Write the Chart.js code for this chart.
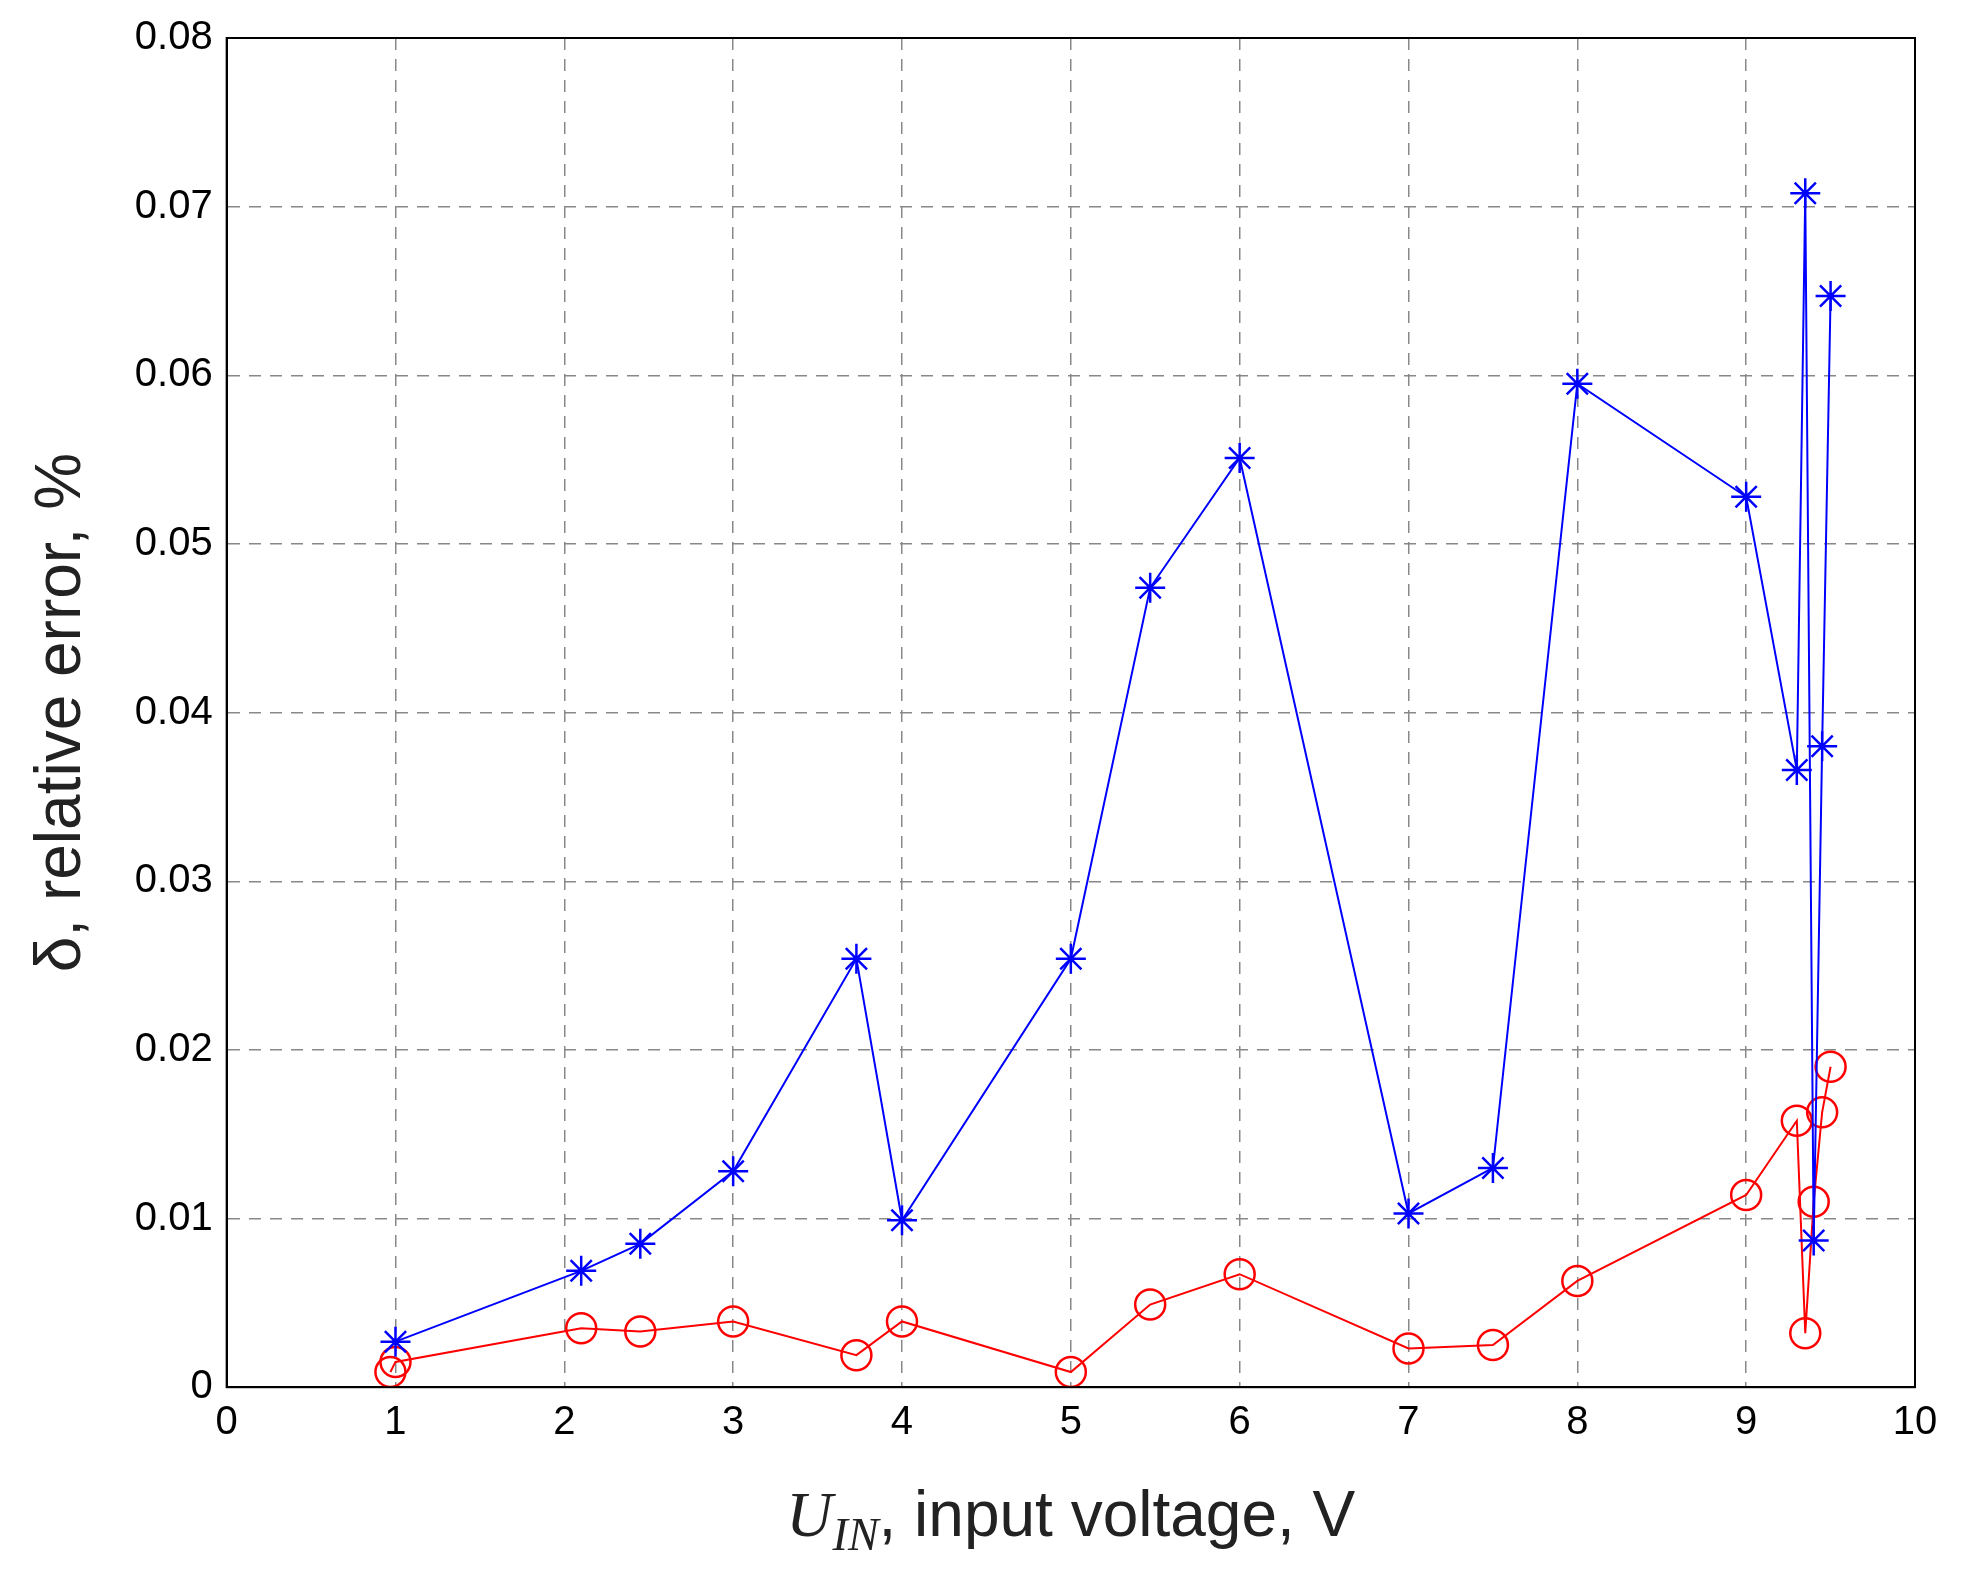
<!DOCTYPE html><html><head><script src="https://cdn.jsdelivr.net/npm/chart.js@4"></script>
<style>body{margin:0;background:#fff}#w{width:1961px;height:1584px}</style></head><body><div id="w"><canvas id="c"></canvas></div>
<script>
const blueX=[1,2.1,2.45,3,3.73,4,5,5.47,6,7,7.5,8,9,9.3,9.35,9.4,9.45,9.5];
const blueY=[0.0027,0.0069,0.0085,0.0128,0.0254,0.0099,0.0254,0.0474,0.0551,0.0103,0.013,0.0595,0.0528,0.0366,0.0708,0.0087,0.038,0.0647];
const redX=[0.97,1,2.1,2.45,3,3.73,4,5,5.47,6,7,7.5,8,9,9.3,9.35,9.4,9.45,9.5];
const redY=[0.0009,0.0015,0.0035,0.0033,0.0039,0.0019,0.0039,0.0009,0.0049,0.0067,0.0023,0.0025,0.0063,0.0114,0.0158,0.0032,0.011,0.0163,0.019];
const xTicks=[0,1,2,3,4,5,6,7,8,9,10];
const yTicks=[0,0.01,0.02,0.03,0.04,0.05,0.06,0.07,0.08];
const pts=(xs,ys)=>xs.map((x,i)=>({x,y:ys[i]}));
const grid={color:'#888',lineWidth:1.5,drawTicks:false};
const bord={color:'#000',width:2,dash:[12,9]};
new Chart(document.getElementById('c'),{type:'scatter',data:{datasets:[
{data:pts(blueX,blueY),showLine:true,borderColor:'#0000ff',backgroundColor:'#0000ff',borderWidth:2,pointStyle:'star',pointRadius:15,pointBorderWidth:2.5},
{data:pts(redX,redY),showLine:true,borderColor:'#ff0000',backgroundColor:'rgba(0,0,0,0)',borderWidth:2,pointStyle:'circle',pointRadius:15,pointBorderWidth:2.5}]},
options:{responsive:true,maintainAspectRatio:false,animation:false,layout:{padding:{top:38,right:46,left:20,bottom:30}},
plugins:{legend:{display:false},tooltip:{enabled:false}},
scales:{x:{type:'linear',min:0,max:10,afterBuildTicks:a=>{a.ticks=xTicks.map(v=>({value:v}))},grid:grid,border:bord,
ticks:{font:{size:40,family:'Liberation Sans'},color:'#000',padding:12},
title:{display:true,text:' ',font:{size:64,family:'Liberation Sans'},padding:{top:14}}},
y:{min:0,max:0.08,afterBuildTicks:a=>{a.ticks=yTicks.map(v=>({value:v}))},grid:grid,border:bord,
ticks:{font:{size:40,family:'Liberation Sans'},color:'#000',padding:14,callback:v=>v===0?'0':v.toFixed(2)},
title:{display:true,text:'δ, relative error, %',font:{size:64,family:'Liberation Sans'},color:'#222',padding:{bottom:20}}}}},
plugins:[{id:'frame',afterDraw(c){const a=c.chartArea,x=c.ctx;x.save();x.strokeStyle='#000';x.lineWidth=2;x.setLineDash([]);x.strokeRect(a.left,a.top,a.right-a.left,a.bottom-a.top);
const xs=c.scales.x;const cy=xs.bottom-40;x.fillStyle='#222';x.textBaseline='alphabetic';
const p1='U',p2='IN',p3=', input voltage, V';
x.font='italic 64px "Liberation Serif"';const w1=x.measureText(p1).width;
x.font='italic 46px "Liberation Serif"';const w2=x.measureText(p2).width;
x.font='64px "Liberation Sans"';const w3=x.measureText(p3).width;
let sx=(a.left+a.right)/2-(w1+w2+w3)/2;const by=cy+22;
x.font='italic 64px "Liberation Serif"';x.fillText(p1,sx,by);sx+=w1;
x.font='italic 46px "Liberation Serif"';x.fillText(p2,sx,by+14);sx+=w2;
x.font='64px "Liberation Sans"';x.fillText(p3,sx,by);x.restore();}}]});
</script></body></html>
